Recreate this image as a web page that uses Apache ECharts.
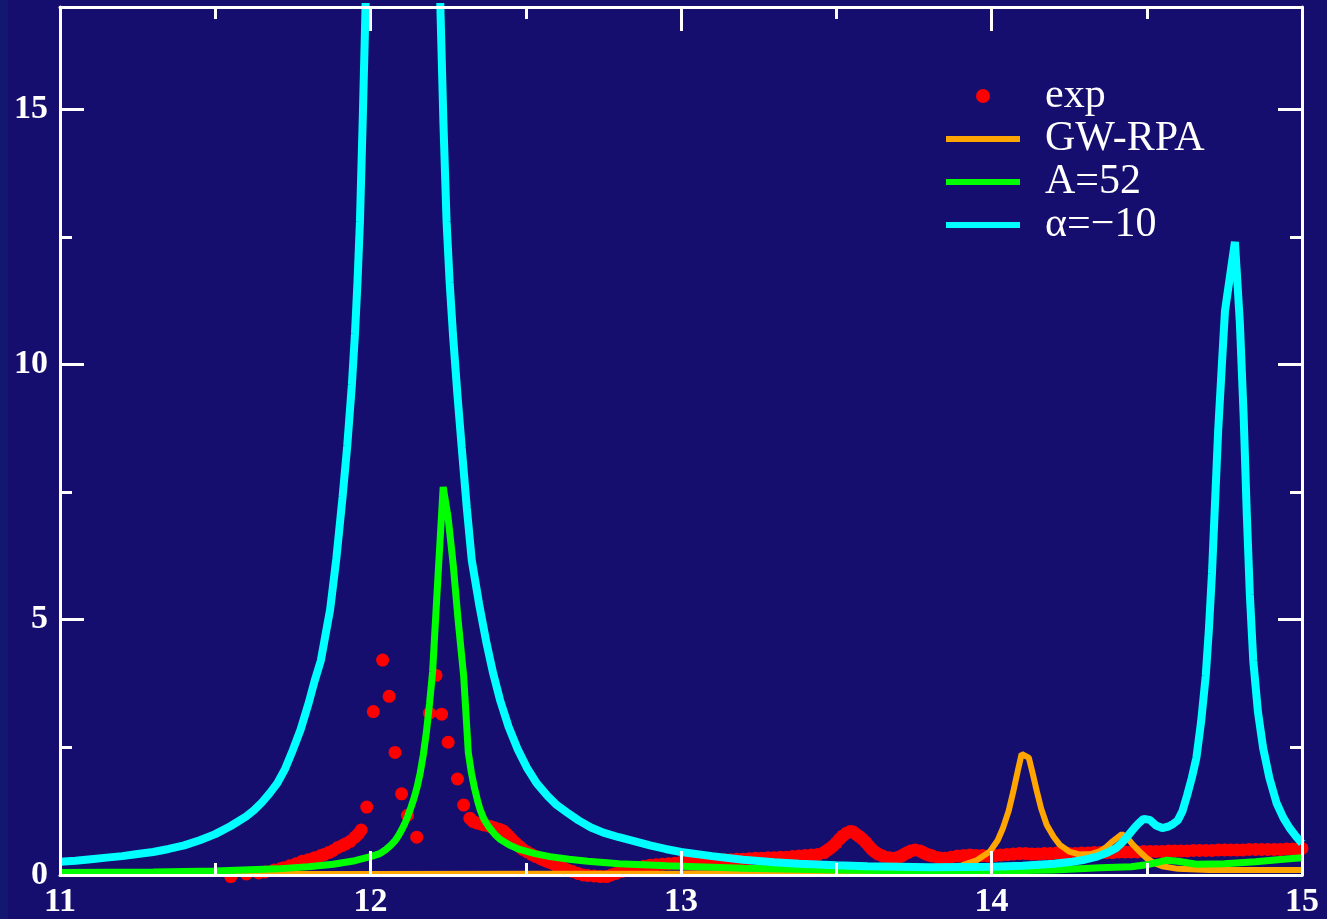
<!DOCTYPE html>
<html>
<head>
<meta charset="utf-8">
<script src="https://cdn.jsdelivr.net/npm/echarts@6/dist/echarts.min.js"></script>
<style>
  html, body { margin: 0; padding: 0; }
  body { width: 1327px; height: 919px; background: linear-gradient(to right, #121870 0 8px, #160e6e 8px); }
  #chart { width: 1327px; height: 919px; }
</style>
</head>
<body>
<div id="chart"></div>
<script>
// ---- data ----
const seriesNames = ['exp', 'GW-RPA', 'A=52', 'α=−10'];
const xTickValues = [11, 12, 13, 14, 15];
const yLabelValues = [0, 5, 10, 15];
const yMinorValues = [2.5, 7.5, 12.5];

const expData = [
  [11.55,-0.03],[11.60,0.02],[11.64,0.04],[11.66,0.06],[11.69,0.10],[11.71,0.12],[11.72,0.14],
  [11.74,0.18],[11.76,0.22],[11.78,0.27],[11.80,0.30],[11.82,0.34],[11.84,0.38],[11.85,0.40],
  [11.865,0.44],[11.88,0.48],[11.895,0.54],[11.91,0.58],[11.92,0.61],[11.935,0.66],[11.95,0.74],
  [11.96,0.80],[11.97,0.88],[11.988,1.33],[12.009,3.20],[12.039,4.21],[12.06,3.50],[12.079,2.40],
  [12.10,1.59],[12.119,1.17],[12.149,0.74],[12.19,3.17],[12.211,3.91],[12.229,3.15],[12.25,2.60],
  [12.28,1.88],[12.30,1.37],[12.32,1.11],[12.33,1.05],[12.342,1.02],[12.355,1.00],[12.365,0.98],
  [12.38,0.96],[12.39,0.94],[12.40,0.92],[12.41,0.90],[12.42,0.88],[12.428,0.86],[12.437,0.81],
  [12.445,0.76],[12.453,0.71],[12.46,0.66],[12.468,0.62],[12.475,0.58],[12.483,0.54],[12.49,0.50],
  [12.505,0.45],[12.52,0.40],[12.533,0.36],[12.545,0.33],[12.555,0.30],[12.567,0.27],[12.58,0.24],
  [12.595,0.20],[12.607,0.17],[12.62,0.14],[12.635,0.10],[12.65,0.07],[12.668,0.03],[12.685,0.00],
  [12.70,-0.01],[12.72,-0.02],[12.74,-0.03],[12.76,-0.03],[12.775,0.00],[12.79,0.03],[12.81,0.07],
  [12.825,0.10],[12.845,0.13],[12.86,0.15],[12.88,0.17],[12.90,0.19],[12.92,0.20],[12.94,0.21],
  [12.96,0.22],[12.98,0.23],[13.00,0.25],[13.02,0.25],[13.04,0.26],[13.06,0.27],[13.08,0.28],
  [13.10,0.28],[13.12,0.29],[13.14,0.30],[13.16,0.30],[13.18,0.31],[13.20,0.31],[13.22,0.32],
  [13.24,0.33],[13.26,0.33],[13.28,0.34],[13.30,0.34],[13.32,0.35],[13.34,0.35],[13.36,0.36],
  [13.38,0.37],[13.40,0.38],[13.42,0.39],[13.44,0.40],[13.46,0.44],[13.47,0.48],[13.48,0.52],
  [13.49,0.57],[13.50,0.63],[13.51,0.70],[13.52,0.76],[13.533,0.82],[13.545,0.85],[13.555,0.84],
  [13.566,0.79],[13.575,0.75],[13.585,0.70],[13.595,0.64],[13.605,0.57],[13.615,0.50],[13.625,0.45],
  [13.635,0.41],[13.65,0.37],[13.67,0.34],[13.69,0.33],[13.70,0.35],[13.71,0.37],[13.72,0.41],
  [13.73,0.44],[13.74,0.47],[13.754,0.49],[13.77,0.47],[13.78,0.44],[13.79,0.41],[13.80,0.39],
  [13.81,0.37],[13.83,0.34],[13.85,0.33],[13.87,0.35],[13.89,0.37],[13.91,0.38],[13.93,0.39],
  [13.95,0.38],[13.97,0.38],[13.99,0.37],[14.01,0.38],[14.03,0.39],[14.05,0.40],[14.07,0.41],
  [14.09,0.42],[14.11,0.42],[14.13,0.41],[14.15,0.41],[14.17,0.42],[14.19,0.42],[14.21,0.43],
  [14.23,0.43],[14.25,0.42],[14.27,0.42],[14.29,0.43],[14.31,0.43],[14.33,0.44],[14.35,0.44],
  [14.37,0.44],[14.39,0.44],[14.41,0.45],[14.43,0.45],[14.45,0.45],[14.47,0.45],[14.49,0.46],
  [14.51,0.46],[14.53,0.46],[14.55,0.46],[14.57,0.47],[14.59,0.47],[14.61,0.47],[14.63,0.47],
  [14.65,0.48],[14.67,0.48],[14.69,0.48],[14.71,0.48],[14.73,0.49],[14.75,0.49],[14.77,0.49],
  [14.79,0.49],[14.81,0.49],[14.83,0.50],[14.85,0.50],[14.87,0.50],[14.89,0.50],[14.91,0.50],
  [14.93,0.50],[14.95,0.51],[14.97,0.51],[14.99,0.51],[15.00,0.52]
];

const gwrpaData = [
  [11.0,0.02],[12.0,0.02],[13.0,0.03],[13.5,0.05],[13.7,0.08],[13.8,0.11],[13.86,0.14],[13.9,0.18],
  [13.95,0.28],[13.995,0.46],[14.02,0.68],[14.037,0.92],[14.055,1.25],[14.07,1.63],[14.085,2.05],
  [14.097,2.37],[14.12,2.30],[14.133,1.98],[14.146,1.64],[14.16,1.30],[14.178,0.98],[14.2,0.75],
  [14.22,0.59],[14.25,0.46],[14.285,0.40],[14.32,0.41],[14.35,0.47],[14.37,0.55],[14.39,0.66],
  [14.42,0.80],[14.438,0.72],[14.456,0.59],[14.48,0.44],[14.5,0.33],[14.525,0.23],[14.55,0.17],
  [14.6,0.12],[14.7,0.10],[14.8,0.10],[15.0,0.10]
];

const a52Data = [
  [11.0,0.05],[11.3,0.06],[11.5,0.08],[11.7,0.12],[11.8,0.16],[11.88,0.21],[11.95,0.28],[12.0,0.36],
  [12.03,0.42],[12.05,0.50],[12.065,0.58],[12.08,0.68],[12.09,0.77],[12.10,0.88],[12.11,1.00],
  [12.12,1.15],[12.13,1.32],[12.14,1.50],[12.15,1.72],[12.16,2.00],[12.17,2.35],[12.18,2.80],
  [12.19,3.35],[12.20,3.98],[12.215,5.60],[12.234,7.60],[12.25,7.00],[12.266,6.10],[12.282,5.00],
  [12.30,3.90],[12.315,2.40],[12.325,2.00],[12.335,1.70],[12.345,1.45],[12.353,1.28],[12.365,1.10],
  [12.38,0.95],[12.40,0.80],[12.417,0.70],[12.45,0.58],[12.48,0.50],[12.53,0.42],[12.578,0.36],
  [12.64,0.31],[12.7,0.27],[12.8,0.22],[12.954,0.18],[13.2,0.13],[13.5,0.10],[13.8,0.08],
  [14.0,0.08],[14.2,0.10],[14.35,0.14],[14.45,0.16],[14.5,0.20],[14.565,0.29],[14.6,0.27],
  [14.66,0.21],[14.75,0.22],[14.85,0.26],[14.94,0.31],[15.0,0.34]
];

const alphaData = [
  [11.0,0.26],[11.05,0.28],[11.1,0.31],[11.15,0.34],[11.2,0.37],[11.25,0.41],[11.3,0.45],[11.35,0.51],
  [11.4,0.58],[11.45,0.68],[11.5,0.80],[11.55,0.96],[11.6,1.15],[11.625,1.27],[11.65,1.42],
  [11.675,1.60],[11.7,1.80],[11.725,2.08],[11.75,2.45],[11.775,2.85],[11.8,3.35],[11.82,3.80],
  [11.84,4.20],[11.855,4.70],[11.87,5.20],[11.88,5.70],[11.89,6.20],[11.9,6.80],[11.91,7.40],
  [11.925,8.40],[11.94,9.60],[11.95,10.6],[11.958,11.6],[11.966,12.8],[11.975,14.8],[11.982,16.5],
  [11.99,18.5],[12.02,25.0],[12.1,40.0],[12.2,24.0],[12.225,17.0],[12.235,14.7],[12.245,12.8],
  [12.255,11.6],[12.266,10.55],[12.28,9.4],[12.294,8.36],[12.31,7.2],[12.326,6.17],[12.35,5.3],
  [12.374,4.53],[12.395,3.95],[12.417,3.43],[12.445,2.90],[12.475,2.45],[12.503,2.11],[12.535,1.80],
  [12.57,1.55],[12.6,1.37],[12.632,1.23],[12.67,1.07],[12.71,0.93],[12.75,0.83],[12.8,0.74],
  [12.846,0.67],[12.9,0.58],[12.95,0.51],[13.0,0.45],[13.1,0.37],[13.2,0.30],[13.3,0.25],
  [13.38,0.22],[13.5,0.19],[13.6,0.17],[13.8,0.15],[14.0,0.16],[14.1,0.18],[14.2,0.22],
  [14.26,0.26],[14.3,0.30],[14.34,0.36],[14.37,0.43],[14.40,0.52],[14.415,0.60],[14.43,0.70],
  [14.445,0.81],[14.46,0.92],[14.475,1.02],[14.49,1.10],[14.51,1.08],[14.53,0.97],[14.55,0.92],
  [14.57,0.95],[14.585,1.00],[14.60,1.07],[14.615,1.25],[14.63,1.56],[14.645,1.90],[14.66,2.30],
  [14.675,3.00],[14.69,3.90],[14.70,4.80],[14.71,5.90],[14.72,7.30],[14.73,8.70],[14.742,10.0],
  [14.752,11.05],[14.784,12.4],[14.80,10.8],[14.812,9.0],[14.822,7.1],[14.832,5.5],[14.843,4.2],
  [14.858,3.2],[14.875,2.48],[14.895,1.90],[14.918,1.41],[14.94,1.12],[14.96,0.92],[14.98,0.76],
  [15.0,0.62]
];

// ---- chart ----
const WHITE = '#ffffff';
const labelFont = { color: WHITE, fontFamily: 'Liberation Serif', fontWeight: 'bold', fontSize: 34 };
const lineIcon = 'path://M0,0 M94,14 M0,4 L74,4 L74,10 L0,10 Z';
const dotIcon = 'path://M0,0 M94,14 M30,7 A7,7 0 1,1 44,7 A7,7 0 1,1 30,7 Z';

function xAxisDef(pos, showLabel) {
  return {
    type: 'value', position: pos, min: 11, max: 15, interval: 1, z: 10,
    axisLine: { show: true, onZero: false, lineStyle: { color: WHITE, width: 3 } },
    axisTick: { show: true, inside: true, length: 24, lineStyle: { color: WHITE, width: 3 } },
    minorTick: { show: true, splitNumber: 2, length: 12, lineStyle: { color: WHITE, width: 3 } },
    splitLine: { show: false }, minorSplitLine: { show: false },
    axisLabel: Object.assign({ show: showLabel, margin: 10,
      customValues: xTickValues }, labelFont)
  };
}
function yAxisDef(pos, values, len, showLabel, showLine) {
  return {
    type: 'value', position: pos, min: 0, max: 17, z: 10,
    axisLine: { show: showLine, onZero: false, lineStyle: { color: WHITE, width: 3 } },
    axisTick: { show: true, inside: true, length: len, customValues: values,
      lineStyle: { color: WHITE, width: 3 } },
    splitLine: { show: false },
    axisLabel: Object.assign({ show: showLabel, margin: 12, customValues: yLabelValues }, labelFont)
  };
}

const chart = echarts.init(document.getElementById('chart'), null, { renderer: 'canvas' });
chart.setOption({
  animation: false,
  backgroundColor: 'transparent',
  grid: { left: 60, right: 25, top: 7, bottom: 42, containLabel: false },
  xAxis: [xAxisDef('bottom', true), xAxisDef('top', false)],
  yAxis: [
    yAxisDef('left', yLabelValues, 24, true, true),
    yAxisDef('left', yMinorValues, 12, false, false),
    yAxisDef('right', yLabelValues, 24, false, true),
    yAxisDef('right', yMinorValues, 12, false, false)
  ],
  legend: {
    orient: 'vertical', left: 946, top: 75, padding: 0,
    itemWidth: 94, itemHeight: 14, itemGap: 1, symbolKeepAspect: true,
    textStyle: { color: WHITE, fontFamily: 'Liberation Serif', fontSize: 42, lineHeight: 40 },
    data: [
      { name: seriesNames[0], icon: dotIcon },
      { name: seriesNames[1], icon: lineIcon },
      { name: seriesNames[2], icon: lineIcon },
      { name: seriesNames[3], icon: lineIcon }
    ]
  },
  series: [
    { name: seriesNames[0], type: 'scatter', data: expData, symbol: 'circle', symbolSize: 13,
      clip: false, itemStyle: { color: '#ff0000', opacity: 1 } },
    { name: seriesNames[1], type: 'line', data: gwrpaData, showSymbol: false, clip: true,
      lineStyle: { color: '#ffa500', width: 6 }, itemStyle: { color: '#ffa500' } },
    { name: seriesNames[2], type: 'line', data: a52Data, showSymbol: false, clip: true,
      lineStyle: { color: '#00ff00', width: 7 }, itemStyle: { color: '#00ff00' } },
    { name: seriesNames[3], type: 'line', data: alphaData, showSymbol: false, clip: true,
      lineStyle: { color: '#00ffff', width: 8 }, itemStyle: { color: '#00ffff' } }
  ]
});
</script>
</body>
</html>
